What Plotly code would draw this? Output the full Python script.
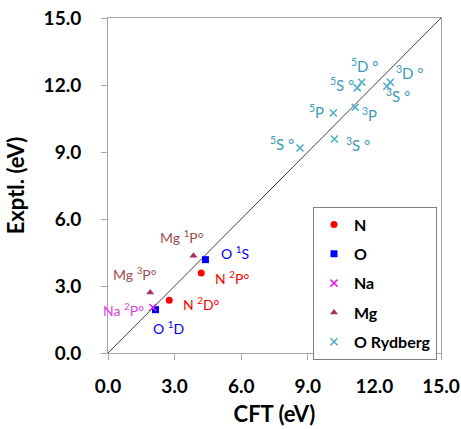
import plotly.graph_objects as go

# ---- data ----
n_x = [2.76, 4.20]
n_y = [2.36, 3.58]
o_x = [2.14, 4.39]
o_y = [1.94, 4.18]
na_x = [2.02]
na_y = [2.04]
mg_x = [1.90, 3.85]
mg_y = [2.71, 4.36]
ryd_x = [11.23, 11.43, 12.56, 12.72, 10.15, 11.13, 10.20, 8.65]
ryd_y = [11.87, 12.12, 11.94, 12.12, 10.75, 11.00, 9.58, 9.18]
diag = [0, 15]

main_labels = ["N <sup>2</sup>D°", "N <sup>2</sup>P°", "O <sup>1</sup>D", "O <sup>1</sup>S",
               "Na <sup>2</sup>P°", "Mg <sup>3</sup>P°", "Mg <sup>1</sup>P°"]
main_lab_x = [4.23, 5.58, 2.73, 5.73, 0.70, 1.23, 3.33]
main_lab_y = [2.21, 3.39, 1.12, 4.48, 1.97, 3.58, 5.22]
main_lab_col = ["#FF0000", "#FF0000", "#0000FF", "#0000FF", "#E040E0", "#9E4F4F", "#9E4F4F"]

ryd_labels = ["<sup>5</sup>D °", "<sup>5</sup>S °", "<sup>3</sup>D °", "<sup>3</sup>S °",
              "<sup>5</sup>P", "<sup>3</sup>P", "<sup>3</sup>S °", "<sup>5</sup>S °"]
ryd_lab_x = [11.58, 10.53, 13.60, 13.08, 9.40, 11.80, 11.28, 7.83]
ryd_lab_y = [12.88, 12.02, 12.54, 11.52, 10.82, 10.67, 9.33, 9.40]

ticks = [0, 3, 6, 9, 12, 15]
tick_text = ["0.0", "3.0", "6.0", "9.0", "12.0", "15.0"]

FONT = "Lato"
RYD_COL = "#4BACC6"

fig = go.Figure()
fig.add_trace(go.Scatter(x=diag, y=diag, mode="lines", line=dict(color="#404040", width=1),
                         showlegend=False, hoverinfo="skip"))
fig.add_trace(go.Scatter(x=n_x, y=n_y, mode="markers", name="N", legendgroup="a",
                         marker=dict(symbol="circle", color="#FF0000", size=7)))
fig.add_trace(go.Scatter(x=o_x, y=o_y, mode="markers", name="O", legendgroup="b",
                         marker=dict(symbol="square", color="#0000FF", size=7)))
fig.add_trace(go.Scatter(x=na_x, y=na_y, mode="markers", name="Na", legendgroup="c",
                         marker=dict(symbol="x-thin-open", color="#E020E0", size=7,
                                     line=dict(width=1.5, color="#E020E0"))))
fig.add_trace(go.Scatter(x=mg_x, y=mg_y, mode="markers", name="Mg", legendgroup="d",
                         marker=dict(symbol="triangle-up", color="#A0306A", size=7)))
fig.add_trace(go.Scatter(x=ryd_x, y=ryd_y, mode="markers", name="O Rydberg", legendgroup="e",
                         marker=dict(symbol="x-thin-open", color=RYD_COL, size=7,
                                     line=dict(width=1.5, color=RYD_COL))))

for t, x, y, c in zip(main_labels, main_lab_x, main_lab_y, main_lab_col):
    fig.add_annotation(x=x, y=y, text=t, showarrow=False,
                       font=dict(family=FONT, size=14, color=c))
for t, x, y in zip(ryd_labels, ryd_lab_x, ryd_lab_y):
    fig.add_annotation(x=x, y=y, text=t, showarrow=False,
                       font=dict(family=FONT, size=15, color="#3E9AB8"))

axis_common = dict(range=[0, 15], tickvals=ticks, ticktext=tick_text, showgrid=False,
                   zeroline=False, showline=True, linecolor="#A6A6A6", linewidth=1,
                   mirror=True, ticks="outside", ticklen=6, tickcolor="#A6A6A6",
                   automargin=False,
                   tickfont=dict(family=FONT, size=19, color="#000000", weight="bold"))

fig.update_layout(
    width=461, height=429,
    margin=dict(l=108, r=20, t=18, b=76),
    paper_bgcolor="white", plot_bgcolor="white",
    xaxis=dict(**axis_common, ticklabelstandoff=10,
               title=dict(text="<b>CFT (eV)</b>", font=dict(family=FONT, size=22, color="#000"),
                          standoff=10)),
    yaxis=dict(**axis_common, ticklabelstandoff=16,
               title=dict(text="<b>Exptl. (eV)</b>", font=dict(family=FONT, size=22, color="#000"),
                          standoff=12)),
    legend=dict(x=0.988, y=0.437, xanchor="right", yanchor="top",
                bgcolor="white", bordercolor="#7F7F7F", borderwidth=1,
                font=dict(family=FONT, size=16, color="#000", weight="bold"),
                tracegroupgap=5.5, itemwidth=30),
    showlegend=True,
)

fig.write_html("out.html", config={"displayModeBar": False},
               post_script="document.body.style.margin='0';document.body.style.padding='0';")
